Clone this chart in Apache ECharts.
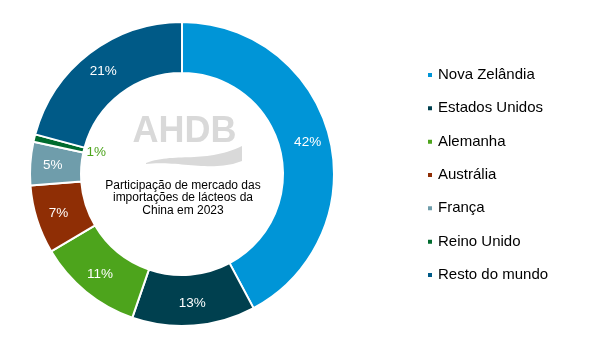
<!DOCTYPE html>
<html>
<head>
<meta charset="utf-8">
<script src="https://cdn.jsdelivr.net/npm/echarts@6/dist/echarts.min.js"></script>
<style>
html,body{margin:0;padding:0;background:#fff;}
#chart{width:594px;height:361px;}
</style>
</head>
<body>
<div id="chart"></div>
<script>
const categories = ['Nova Zelândia', 'Estados Unidos', 'Alemanha', 'Austrália', 'França', 'Reino Unido', 'Resto do mundo'];
const values = [42.2, 13.1, 11.2, 7.3, 4.6, 0.8, 20.8];
const colors = ['#0095D7', '#00404F', '#4DA41C', '#8F2E05', '#6F9DAB', '#006B2E', '#005A87'];
const centerTitle = 'Participação de mercado das\nimportações de lácteos da\nChina em 2023';

const FONT = '"Liberation Sans", Arial, sans-serif';
const data = categories.map((name, i) => {
  const item = { name: name, value: values[i], itemStyle: { color: colors[i] } };
  if (name === 'Reino Unido') {
    item.label = { color: '#4DA41C', offset: [40, 8.5] };
  }
  return item;
});

// logo swoosh (decoration) sampled from two cubic curves
function cubic(p0, p1, p2, p3, n) {
  const pts = [];
  for (let k = 0; k <= n; k++) {
    const t = k / n, u = 1 - t;
    pts.push([
      u*u*u*p0[0] + 3*u*u*t*p1[0] + 3*u*t*t*p2[0] + t*t*t*p3[0],
      u*u*u*p0[1] + 3*u*u*t*p1[1] + 3*u*t*t*p2[1] + t*t*t*p3[1]
    ]);
  }
  return pts;
}
const swoosh = cubic([146,163],[175,152],[205,164],[242,146],30)
  .concat(cubic([242,161],[212,173],[178,160],[146,164],30));

const chart = echarts.init(document.getElementById('chart'), null, { renderer: 'canvas' });
chart.setOption({
  animation: false,
  backgroundColor: '#ffffff',
  legend: {
    orient: 'vertical',
    left: 421,
    top: 61,
    itemWidth: 6,
    itemHeight: 6,
    itemGap: 15.33,
    icon: 'rect',
    data: categories,
    textStyle: { fontFamily: FONT, fontSize: 15, color: '#000', lineHeight: 18 },
    selectedMode: false
  },
  graphic: [
    {
      type: 'text', z: 1,
      style: { x: 184.5, y: 132.5, text: 'AHDB', fill: '#d9d9d9', font: 'bold 36px ' + FONT, textAlign: 'center', textVerticalAlign: 'middle' }
    },
    {
      type: 'polygon', z: 1,
      shape: { points: swoosh },
      style: { fill: '#d9d9d9' }
    },
    {
      type: 'text', z: 2,
      style: { x: 183, y: 198, text: centerTitle, fill: '#000', font: '12px ' + FONT, textAlign: 'center', textVerticalAlign: 'middle', lineHeight: 12.5 }
    }
  ],
  series: [{
    type: 'pie',
    center: [182, 174],
    radius: [101, 152],
    startAngle: 90,
    clockwise: true,
    avoidLabelOverlap: false,
    itemStyle: { borderColor: '#ffffff', borderWidth: 2 },
    label: {
      show: true,
      position: 'inside',
      formatter: function (p) { return Math.round(p.value) + '%'; },
      color: '#ffffff',
      fontFamily: FONT,
      fontSize: 13.5
    },
    labelLine: { show: false },
    emphasis: { disabled: true },
    data: data
  }]
});
</script>
</body>
</html>
